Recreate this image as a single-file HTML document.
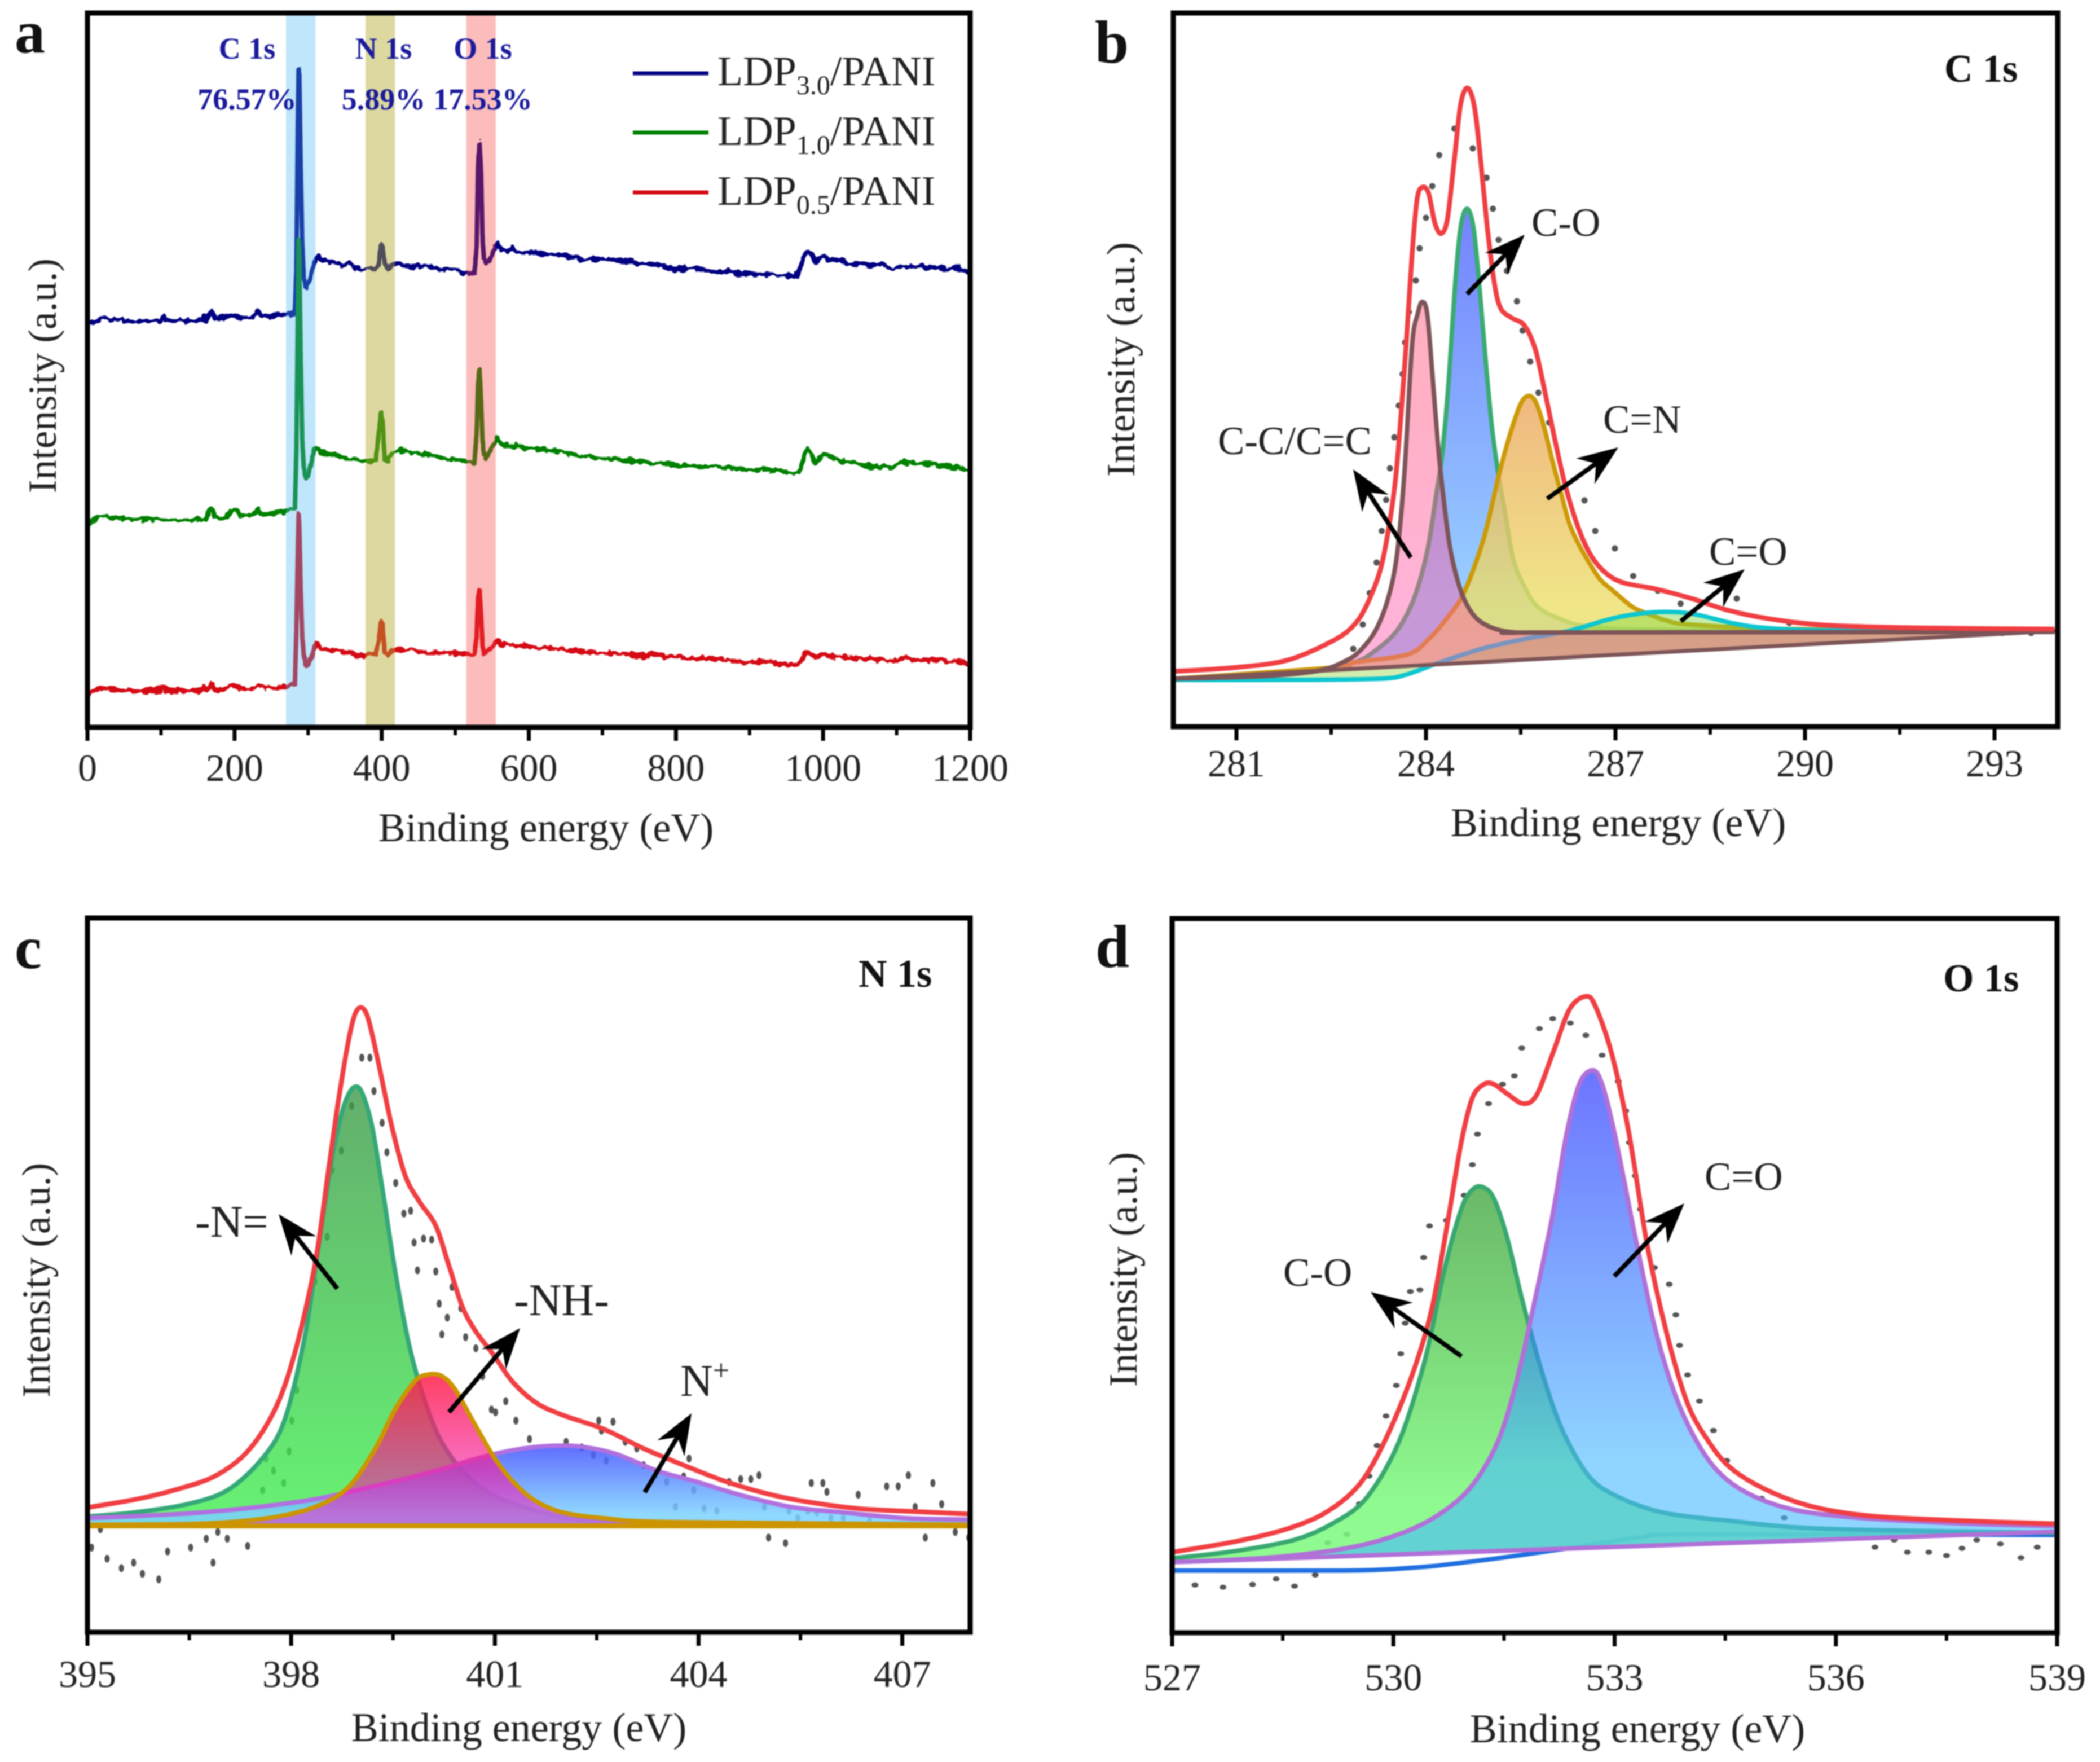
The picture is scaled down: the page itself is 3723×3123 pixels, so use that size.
<!DOCTYPE html>
<html lang="en">
<head>
<meta charset="utf-8">
<title>XPS spectra of LDP/PANI</title>
<style>
html,body{margin:0;padding:0;background:#fff;}
svg{display:block;filter:blur(1px);}
text{font-family:"Liberation Serif",serif;fill:#222;}
.axis-label{font-size:72px;}
.y-title{font-size:71px;}
.tick-label{font-size:68px;text-anchor:middle;}
.note{font-size:71px;}
.note-large{font-size:80px;}
.legend-text{font-size:74px;}
.panel-letter{font-size:108px;font-weight:bold;fill:#111;}
.core{font-size:70px;font-weight:bold;fill:#111;}
.band-label{font-size:54px;font-weight:bold;fill:#1a1a9c;text-anchor:middle;}
</style>
</head>
<body>
<svg id="fig" xmlns="http://www.w3.org/2000/svg" width="3723" height="3123" viewBox="0 0 3723 3123">
  <defs>
    <linearGradient id="gCC" x1="0" y1="0" x2="0" y2="1"><stop offset="0" stop-color="rgb(255,78,111)"/><stop offset="1" stop-color="rgb(255,88,178)"/></linearGradient>
    <linearGradient id="gCOb" x1="0" y1="0" x2="0" y2="1"><stop offset="0" stop-color="rgb(108,124,255)"/><stop offset="0.82" stop-color="rgb(146,204,255)"/></linearGradient>
    <linearGradient id="gCN" x1="0" y1="0" x2="0" y2="1"><stop offset="0" stop-color="rgb(236,166,96)"/><stop offset="0.75" stop-color="rgb(236,224,106)"/></linearGradient>
    <linearGradient id="gCOd" x1="0" y1="0" x2="0" y2="1"><stop offset="0" stop-color="#78d840"/><stop offset="1" stop-color="#a0d850"/></linearGradient>
    <linearGradient id="gNg" x1="0" y1="0" x2="0" y2="1"><stop offset="0" stop-color="#3c9a48"/><stop offset="1" stop-color="#40f050"/></linearGradient>
    <linearGradient id="gNr" x1="0" y1="0" x2="0" y2="1"><stop offset="0" stop-color="rgb(255,30,68)" stop-opacity="0.85"/><stop offset="1" stop-color="rgb(240,24,209)" stop-opacity="0.5"/></linearGradient>
    <linearGradient id="gNb" x1="0" y1="0" x2="0" y2="1"><stop offset="0" stop-color="rgb(68,84,255)"/><stop offset="0.85" stop-color="rgb(124,209,255)"/></linearGradient>
    <linearGradient id="gOg" x1="0" y1="0" x2="0" y2="1"><stop offset="0" stop-color="rgb(80,172,77)"/><stop offset="0.85" stop-color="rgb(124,250,124)"/></linearGradient>
    <linearGradient id="gOb" x1="0" y1="0" x2="0" y2="1"><stop offset="0" stop-color="rgb(10,24,255)"/><stop offset="0.8" stop-color="rgb(69,186,255)"/></linearGradient>
    <clipPath id="clipB"><rect x="2080" y="23" width="1568" height="1265"/></clipPath>
    <clipPath id="clipC"><rect x="155" y="1627" width="1565" height="1266"/></clipPath>
    <clipPath id="clipD"><rect x="2078" y="1628" width="1569" height="1266"/></clipPath>
    <filter id="rough" filterUnits="userSpaceOnUse" x="100" y="0" width="1700" height="1350" color-interpolation-filters="sRGB">
      <feTurbulence type="fractalNoise" baseFrequency="0.08" numOctaves="2" seed="4" result="noise"/>
      <feColorMatrix in="noise" type="matrix" values="0 0 0 0 0.5  0 1 0 0 0  0 0 0 0 0.5  0 0 0 0 1" result="yOnly"/>
      <feDisplacementMap in="SourceGraphic" in2="yOnly" scale="14" xChannelSelector="R" yChannelSelector="G"/>
    </filter>
  </defs>
  <rect x="0" y="0" width="3723" height="3123" fill="#fff"/>

  <g id="panelA"></g>
  <g id="panelB"></g>
  <g id="panelC"></g>
  <g id="panelD"></g>

  <!-- panel letters -->
  <text class="panel-letter" x="26" y="93">a</text>
  <text class="panel-letter" x="1941" y="111">b</text>
  <text class="panel-letter" x="26" y="1716">c</text>
  <text class="panel-letter" x="1942" y="1714">d</text>

  <!-- axis titles -->
  <text class="axis-label" x="968" y="1491" text-anchor="middle">Binding energy (eV)</text>
  <text class="y-title" transform="translate(99,666) rotate(-90)" text-anchor="middle">Intensity (a.u.)</text>
  <text class="axis-label" x="2869" y="1482" text-anchor="middle">Binding energy (eV)</text>
  <text class="y-title" transform="translate(2011,637) rotate(-90)" text-anchor="middle">Intensity (a.u.)</text>
  <text class="axis-label" x="920" y="3086" text-anchor="middle">Binding energy (eV)</text>
  <text class="y-title" transform="translate(88,2269) rotate(-90)" text-anchor="middle">Intensity (a.u.)</text>
  <text class="axis-label" x="2903" y="3088" text-anchor="middle">Binding energy (eV)</text>
  <text class="y-title" transform="translate(2015,2250) rotate(-90)" text-anchor="middle">Intensity (a.u.)</text>

  <!-- panel a labels and legend -->
  <text class="band-label" x="438" y="104">C 1s</text>
  <text class="band-label" x="438" y="194">76.57%</text>
  <text class="band-label" x="680" y="104">N 1s</text>
  <text class="band-label" x="680" y="194">5.89%</text>
  <text class="band-label" x="856" y="104">O 1s</text>
  <text class="band-label" x="856" y="194">17.53%</text>

  <g>
    <line x1="1122" x2="1256" y1="130" y2="130" stroke="#000080" stroke-width="7"/>
    <line x1="1122" x2="1256" y1="235" y2="235" stroke="#008000" stroke-width="7"/>
    <line x1="1122" x2="1256" y1="341" y2="341" stroke="#d40a14" stroke-width="7"/>
    <text class="legend-text" x="1272" y="151">LDP<tspan font-size="48" dy="16">3.0</tspan><tspan dy="-16">/PANI</tspan></text>
    <text class="legend-text" x="1272" y="257">LDP<tspan font-size="48" dy="16">1.0</tspan><tspan dy="-16">/PANI</tspan></text>
    <text class="legend-text" x="1272" y="363">LDP<tspan font-size="48" dy="16">0.5</tspan><tspan dy="-16">/PANI</tspan></text>
  </g>

  <!-- panel b labels -->
  <text class="core" x="3447" y="145">C 1s</text>
  <text class="note" x="2715" y="418">C-O</text>
  <text class="note" x="2842" y="767">C=N</text>
  <text class="note" x="3030" y="1001">C=O</text>
  <text class="note" x="2159" y="805">C-C/C=C</text>

  <!-- panel c labels -->
  <text class="core" x="1522" y="1749">N 1s</text>
  <text class="note-large" x="346" y="2192">-N=</text>
  <text class="note-large" x="911" y="2331">-NH-</text>
  <text class="note-large" x="1206" y="2474">N<tspan font-size="52" dy="-28">+</tspan></text>

  <!-- panel d labels -->
  <text class="core" x="3445" y="1757">O 1s</text>
  <text class="note" x="2275" y="2279">C-O</text>
  <text class="note" x="3022" y="2109">C=O</text>

  <g id="arrows"></g>
</svg>

<script>
/* ---------- panel a: survey spectra ---------- */
const surveyEnergy = [0,5,10,18,25,35,50,70,90,100,103,106,120,140,155,158,161,168,170,173,185,200,203,208,225,232,236,245,260,275,282,284,286,287,288,290,292,294,297,300,304,308,312,318,326,335,345,355,365,375,385,392,396,399,401,404,408,415,425,440,460,480,500,515,526,529,531,533,535,537,539,542,546,551,557,563,570,578,590,605,625,650,675,700,725,750,775,800,825,850,875,900,925,945,960,966,971,978,984,990,995,1001,1008,1020,1040,1060,1080,1095,1105,1115,1130,1150,1170,1185,1200];
const ldp30Intensity = [715,721,723,725,728,724,723,723,722,723,731,723,723,723,724,731,723,740,738,726,727,734,731,727,730,740,732,731,732,735,737,813,1073,1171,1163,993,863,803,783,788,803,825,837,831,829,827,822,825,817,814,817,813,823,857,853,825,816,823,823,820,820,814,813,808,807,853,1003,1038,993,873,831,827,830,843,862,848,845,852,843,846,841,839,831,833,830,825,823,815,816,810,811,805,807,802,801,805,825,849,841,827,832,838,832,830,824,821,823,813,821,819,819,818,815,816,809];
const ldp10Intensity = [361,367,371,374,375,371,371,370,370,370,370,370,370,369,370,371,370,390,388,372,372,387,385,375,378,388,380,379,381,386,388,493,733,865,843,653,513,463,443,448,468,493,497,490,487,484,481,477,474,473,473,475,523,558,548,478,475,486,493,488,485,480,475,473,469,523,613,636,583,513,483,481,487,500,514,503,503,500,498,496,493,488,483,478,476,473,470,467,463,464,461,458,458,455,451,453,468,495,485,471,478,486,481,475,471,465,463,462,473,470,469,467,464,463,457];
const ldp05Intensity = [57,63,67,68,70,66,65,65,66,66,71,66,65,65,67,73,66,75,74,67,67,77,75,68,70,76,71,70,71,74,76,173,313,378,358,243,163,128,111,113,123,138,150,140,138,136,135,133,129,128,130,130,153,187,183,133,128,138,138,137,133,133,131,130,128,163,233,245,203,148,133,133,137,145,155,147,147,147,145,143,141,138,135,133,131,128,128,125,121,123,118,115,117,113,110,111,121,135,130,123,127,132,128,125,123,121,121,117,123,122,121,119,117,118,113];
const bandStart = [270,378,515];
const bandEnd = [310,418,555];
const surveyMajorTicks = [0,200,400,600,800,1000,1200];
const surveyMinorTicks = [100,300,500,700,900,1100];

/* ---------- panel b: C 1s ---------- */
const cDotsEnergy = [282.85,283.00,283.11,283.22,283.30,283.37,283.43,283.50,283.57,283.63,283.67,283.73,283.84,283.90,284.00,284.10,284.21,284.45,284.74,284.96,285.06,285.15,285.28,285.44,285.53,285.65,285.78,285.95,286.51,286.68,286.99,287.28,287.67,288.03,288.92,289.75,293.12,293.58];
const cDotsIntensity = [138,181,237,291,347,402,458,513,569,625,681,735,791,848,902,958,1013,1060,1025,973,918,863,808,754,702,647,592,539,401,347,316,267,241,218,227,184,166,166];
const cFitEnergy = [280.00,280.99,281.81,282.54,282.86,283.06,283.27,283.40,283.51,283.59,283.69,283.78,283.86,283.94,284.04,284.14,284.24,284.34,284.45,284.55,284.66,284.77,284.87,284.97,285.08,285.18,285.35,285.56,285.73,285.86,286.03,286.20,286.41,286.61,286.85,287.13,287.64,288.21,288.76,289.39,290.32,291.87,293.95];
const cFitIntensity = [98,105,118,153,180,215,275,345,430,530,683,837,935,956,946,893,874,900,1006,1104,1132,1097,999,886,788,742,725,711,669,606,514,430,353,304,272,255,244,227,207,192,180,175,173];
const ccEnergy = [280.00,281.50,282.33,282.75,282.96,283.20,283.40,283.54,283.66,283.78,283.87,283.94,284.02,284.10,284.19,284.26,284.36,284.46,284.60,284.80,285.08,285.42,285.93,293.95];
const ccIntensity = [85,90,100,118,135,170,227,304,451,676,732,753,732,627,500,423,332,276,227,192,174,167,167,168];
const coEnergy = [280.00,282.02,282.86,283.20,283.54,283.81,284.02,284.17,284.26,284.36,284.46,284.55,284.65,284.75,284.84,284.94,285.04,285.15,285.25,285.38,285.56,285.76,286.10,286.61,288.00,293.95];
const coIntensity = [85,95,114,135,170,227,311,416,486,613,781,886,918,886,788,655,535,444,381,297,248,213,192,177,172,170];
const cnEnergy = [280.00,282.54,282.86,283.71,284.05,284.33,284.60,284.91,285.15,285.32,285.49,285.61,285.73,285.86,286.00,286.14,286.27,286.41,286.55,286.75,286.96,287.26,287.47,287.81,288.19,289.80,293.95];
const cnIntensity = [85,105,114,128,156,192,237,332,444,514,570,586,577,535,472,413,360,325,297,262,241,213,202,188,181,173,170];
const cdoEnergy = [280.00,282.02,283.27,283.68,284.22,284.91,285.59,286.27,286.96,287.50,287.98,288.35,288.87,289.39,290.32,293.95];
const cdoIntensity = [83,83,85,92,114,139,156,170,192,202,203,197,183,175,171,168];
const cBaseEnergy = [280,294];
const cBaseIntensity = [85,170];
const cMajorTicks = [281,284,287,290,293];
const cMinorTicks = [282.5,285.5,288.5,291.5];

/* ---------- panel c: N 1s ---------- */
const nDotsEnergy = [395.06,395.19,395.29,395.50,395.68,395.81,396.05,396.18,396.52,396.75,396.85,396.92,397.06,397.36,397.58,397.63,397.74,397.89,397.97,398.01,398.08,398.25,398.35,398.53,398.60,398.74,398.89,399.04,399.16,399.22,399.34,399.41,399.54,399.66,399.76,399.81,399.95,400.07,399.86,400.13,400.18,400.22,400.37,400.30,400.50,400.57,400.72,400.82,400.95,401.01,401.16,401.31,401.51,402.05,402.28,402.45,402.64,402.53,402.57,402.74,402.92,403.09,403.19,403.66,403.53,403.78,403.86,403.93,404.08,404.27,404.45,404.62,404.77,404.89,404.97,405.03,405.28,405.33,405.46,405.61,405.66,405.74,405.83,405.89,405.95,406.13,406.35,406.52,406.77,406.94,407.09,407.19,407.34,407.45,407.58,407.78,407.98];
const nDotsIntensity = [152,185,132,115,125,105,95,145,152,168,125,180,168,155,255,312,290,268,325,380,435,580,630,710,830,865,945,1032,1032,972,915,862,807,752,757,700,707,705,650,648,590,535,620,565,582,530,510,460,400,395,415,380,347,342,332,318,308,380,362,378,342,330,300,225,270,280,312,255,222,218,270,275,275,282,225,170,160,218,205,218,268,215,268,252,205,205,247,200,262,262,282,225,170,268,230,180,170];
const nFitEnergy = [395.00,395.68,396.27,396.87,397.36,397.76,398.05,398.35,398.55,398.69,398.84,398.94,399.04,399.14,399.29,399.48,399.68,399.88,400.13,400.32,400.52,400.72,400.97,401.26,401.61,402.00,402.60,403.19,403.78,404.37,404.97,405.56,406.35,407.14,408.03];
const nFitIntensity = [224,238,255,280,325,400,500,660,830,950,1060,1110,1122,1100,1020,910,820,775,730,660,585,540,500,450,412,390,365,330,300,272,250,235,222,217,212];
const imineEnergy = [395.00,395.68,396.47,397.06,397.56,397.90,398.20,398.40,398.60,398.74,398.84,398.94,399.04,399.19,399.34,399.53,399.73,399.93,400.18,400.52,400.92,401.41,402.10,403.09,408.03];
const imineIntensity = [208,215,230,255,310,380,530,690,850,930,965,980,970,910,800,650,520,430,350,290,250,225,205,197,195];
const amineEnergy = [395.00,396.67,397.66,398.35,398.84,399.24,399.53,399.83,400.03,400.22,400.42,400.72,401.01,401.31,401.61,402.00,402.60,403.58,408.03];
const amineIntensity = [193,195,205,225,260,330,400,452,463,460,435,370,310,265,235,215,205,198,193];
const nPlusEnergy = [395.00,396.67,398.15,399.14,400.13,400.82,401.41,401.90,402.30,402.79,403.39,403.98,404.57,405.36,406.15,407.04,408.03];
const nPlusIntensity = [205,215,235,260,290,315,330,335,333,320,290,270,248,225,215,205,202];
const nBaseEnergy = [395,408];
const nBaseIntensity = [191,191];
const nMajorTicks = [395,398,401,404,407];
const nMinorTicks = [396.5,399.5,402.5,405.5];

/* ---------- panel d: O 1s ---------- */
const oDotsEnergy = [527.31,527.69,528.09,528.41,528.66,528.94,529.11,529.37,529.54,529.67,529.78,529.90,530.04,530.10,530.16,530.23,530.36,530.41,530.49,530.72,530.96,531.07,531.14,531.29,531.48,531.64,531.74,531.98,532.16,532.40,532.61,532.83,533.05,533.15,533.20,533.28,533.35,533.54,533.74,533.83,533.88,533.99,534.15,534.34,534.52,534.99,535.30,536.53,536.79,536.97,537.26,537.50,537.71,537.91,538.23,538.51,538.73];
const oDotsIntensity = [86,82,87,97,84,104,162,177,232,282,337,390,445,502,557,614,617,675,732,742,787,842,897,952,987,1002,1052,1087,1105,1097,1075,1039,992,939,882,822,762,657,627,572,517,464,417,364,310,242,207,154,167,145,145,139,152,167,160,135,154];
const oFitEnergy = [527.00,527.85,528.56,529.09,529.54,529.89,530.25,530.52,530.74,530.92,531.07,531.23,531.36,531.54,531.76,531.94,532.16,532.39,532.61,532.74,532.96,533.19,533.45,533.72,533.99,534.26,534.57,535.06,535.68,536.48,537.64,539.00];
const oFitIntensity = [145,164,187,217,267,347,462,582,742,882,962,987,987,970,952,967,1042,1122,1145,1127,1042,902,692,532,412,347,297,257,227,210,202,196];
const ocoEnergy = [527.00,527.85,528.65,529.18,529.63,530.07,530.43,530.69,530.92,531.07,531.21,531.36,531.54,531.76,532.03,532.30,532.65,533.01,533.63,534.52,535.86,539.00];
const ocoIntensity = [134,147,167,197,242,342,492,652,762,797,802,782,712,592,462,362,282,247,217,202,187,180];
const odoEnergy = [527.00,528.29,529.36,530.07,530.61,531.05,531.41,531.67,531.94,532.16,532.34,532.52,532.70,532.83,533.01,533.28,533.54,533.81,534.08,534.39,534.79,535.41,536.30,537.64,539.00];
const odoIntensity = [127,135,152,177,212,262,342,452,612,752,892,987,1012,987,892,712,552,432,352,292,252,222,207,197,192];
const oBackEnergy = [527,529.30,529.89,530.25,530.61,531.41,532.21,532.74,533.37,534.08,539];
const oBackIntensity = [112,112,114,117,121,134,149,160,172,177,176];
const oBaseEnergy = [527,539];
const oBaseIntensity = [127,182];
const oMajorTicks = [527,530,533,536,539];
const oMinorTicks = [528.5,531.5,534.5,537.5];

/* ---------- drawing helpers ---------- */
const NS = 'http://www.w3.org/2000/svg';
function make(tag, parent){ const el = document.createElementNS(NS, tag); parent.appendChild(el); return el; }
function scale(d0,d1,r0,r1){ return v => r0 + (v-d0)/(d1-d0)*(r1-r0); }
function linePath(xs, ys, X, Y){
  let d = '';
  for(let i=0;i<xs.length;i++){ d += (i?'L':'M') + X(xs[i]).toFixed(1) + ' ' + Y(ys[i]).toFixed(1); }
  return d;
}
function smoothPath(xs, ys, X, Y){
  const p = xs.map((x,i)=>[X(x),Y(ys[i])]);
  let d = 'M' + p[0][0].toFixed(1)+' '+p[0][1].toFixed(1);
  for(let i=0;i<p.length-1;i++){
    const a=p[Math.max(i-1,0)], b=p[i], c=p[i+1], e=p[Math.min(i+2,p.length-1)];
    const t=0.16;
    const c1x=b[0]+(c[0]-a[0])*t, c1y=b[1]+(c[1]-a[1])*t;
    const c2x=c[0]-(e[0]-b[0])*t, c2y=c[1]-(e[1]-b[1])*t;
    d += 'C'+c1x.toFixed(1)+' '+c1y.toFixed(1)+' '+c2x.toFixed(1)+' '+c2y.toFixed(1)+' '+c[0].toFixed(1)+' '+c[1].toFixed(1);
  }
  return d;
}
function axisFrame(g, geo, X, major, minor, panelKey){
  const bottom = geo.bottom;
  major.forEach(v=>{
    const t = make('line', g);
    t.setAttribute('x1', X(v)); t.setAttribute('x2', X(v));
    t.setAttribute('y1', bottom); t.setAttribute('y2', bottom+24);
    t.setAttribute('stroke', '#000'); t.setAttribute('stroke-width', '7');
    
    
    const s = make('text', g);
    s.setAttribute('class', 'tick-label');
    s.setAttribute('x', X(v)); s.setAttribute('y', geo.tickY);
    s.textContent = String(v);
    
    
  });
  minor.forEach(v=>{
    const t = make('line', g);
    t.setAttribute('x1', X(v)); t.setAttribute('x2', X(v));
    t.setAttribute('y1', bottom); t.setAttribute('y2', bottom+14);
    t.setAttribute('stroke', '#000'); t.setAttribute('stroke-width', '6');
    
    
  });
  const f = make('rect', g);
  f.setAttribute('x', geo.left); f.setAttribute('y', geo.top);
  f.setAttribute('width', geo.right-geo.left); f.setAttribute('height', geo.bottom-geo.top);
  f.setAttribute('fill', 'none'); f.setAttribute('stroke', '#000'); f.setAttribute('stroke-width', '9');
  
  
}
function drawDots(g, xs, ys, X, Y, clip, panelKey, rx, ry){
  const dg = make('g', g);
  dg.setAttribute('clip-path', clip);
  
  
  xs.forEach((x,i)=>{
    const c = make('ellipse', dg);
    c.setAttribute('cx', X(x).toFixed(1)); c.setAttribute('cy', Y(ys[i]).toFixed(1));
    c.setAttribute('rx', rx); c.setAttribute('ry', ry);
    c.setAttribute('fill', '#555');
    
    
  });
}
function drawArea(g, xs, ys, baseX, baseY, X, Y, fill, opacity, clip, name){
  const a = make('path', g);
  const n = baseX.length-1;
  a.setAttribute('d', smoothPath(xs, ys, X, Y) + 'L' + X(baseX[n]) + ' ' + Y(baseY[n]) + 'L' + X(baseX[0]) + ' ' + Y(baseY[0]) + 'Z');
  a.setAttribute('fill', fill);
  a.setAttribute('fill-opacity', opacity);
  a.setAttribute('clip-path', clip);
  
  
}
function drawLine(g, xs, ys, X, Y, stroke, width, clip, name, smooth){
  const l = make('path', g);
  l.setAttribute('d', smooth ? smoothPath(xs, ys, X, Y) : linePath(xs, ys, X, Y));
  l.setAttribute('fill', 'none');
  l.setAttribute('stroke', stroke);
  l.setAttribute('stroke-width', width);
  l.setAttribute('stroke-linejoin', 'round');
  l.setAttribute('clip-path', clip);
  
  
  return l;
}
function drawPeak(g, xs, ys, baseX, baseY, X, Y, fill, opacity, stroke, clip, name){
  drawArea(g, xs, ys, baseX, baseY, X, Y, fill, opacity, clip, name);
  drawLine(g, xs, ys, X, Y, stroke, 8, clip, name + '-curve', true);
}

/* ---------- panel a ---------- */
(function(){
  const g = document.getElementById('panelA');
  const geo = {left:155,right:1720,top:23,bottom:1289,tickY:1384};
  const X = scale(0,1200,geo.left,geo.right);
  const Y = scale(0,1266,1289,27);
  const roughGroup = make('g', g);
  roughGroup.setAttribute('filter', 'url(#rough)');
  
  
  drawLine(roughGroup, surveyEnergy, ldp30Intensity, X, Y, '#000080', 8, 'none', 'series-ldp30-pani', false);
  drawLine(roughGroup, surveyEnergy, ldp10Intensity, X, Y, '#008000', 8, 'none', 'series-ldp10-pani', false);
  drawLine(roughGroup, surveyEnergy, ldp05Intensity, X, Y, '#d40a14', 8, 'none', 'series-ldp05-pani', false);
  const bandFill = ['rgb(72,183,243)','rgb(178,169,44)','rgb(250,64,64)'];
  const bandAlpha = ['0.35','0.45','0.35'];
  bandStart.forEach((s,i)=>{
    const r = make('rect', g);
    r.setAttribute('x', X(s)); r.setAttribute('y', geo.top);
    r.setAttribute('width', X(bandEnd[i])-X(s)); r.setAttribute('height', geo.bottom-geo.top);
    r.setAttribute('fill', bandFill[i]); r.setAttribute('fill-opacity', bandAlpha[i]);
    
    
  });
  axisFrame(g, geo, X, surveyMajorTicks, surveyMinorTicks, 'a');
})();

/* ---------- panel b ---------- */
(function(){
  const g = document.getElementById('panelB');
  const geo = {left:2080,right:3648,top:23,bottom:1288,tickY:1376};
  const X = scale(280,294,geo.left,geo.right);
  const Y = scale(0,1265,geo.bottom,geo.top);
  const clip = 'url(#clipB)';
  drawDots(g, cDotsEnergy, cDotsIntensity, X, Y, clip, 'b', 5.5, 5.5);
  drawPeak(g, coEnergy, coIntensity, cBaseEnergy, cBaseIntensity, X, Y, 'url(#gCOb)', 0.95, '#3aab70', clip, 'peak-c-o');
  drawPeak(g, cnEnergy, cnIntensity, cBaseEnergy, cBaseIntensity, X, Y, 'url(#gCN)', 0.8, '#cc9a08', clip, 'peak-c-n');
  drawPeak(g, cdoEnergy, cdoIntensity, cBaseEnergy, cBaseIntensity, X, Y, 'url(#gCOd)', 0.45, '#0cc6d0', clip, 'peak-c-double-o');
  drawArea(g, ccEnergy, ccIntensity, cBaseEnergy, cBaseIntensity, X, Y, 'url(#gCC)', 0.45, clip, 'peak-c-c');
  drawLine(g, ccEnergy, ccIntensity, X, Y, '#7d5558', 8, clip, 'peak-c-c-curve', true);
  drawLine(g, cBaseEnergy, cBaseIntensity, X, Y, '#7d5558', 7, clip, 'background-line-b', false);
  drawLine(g, cFitEnergy, cFitIntensity, X, Y, '#f03e42', 8.5, clip, 'envelope-fit-b', true);
  axisFrame(g, geo, X, cMajorTicks, cMinorTicks, 'b');
})();

/* ---------- panel c ---------- */
(function(){
  const g = document.getElementById('panelC');
  const geo = {left:155,right:1720,top:1627,bottom:2893,tickY:2990};
  const X = scale(395,408,geo.left,geo.right);
  const Y = scale(0,1283,geo.bottom,geo.top);
  const clip = 'url(#clipC)';
  drawDots(g, nDotsEnergy, nDotsIntensity, X, Y, clip, 'c', 4.5, 7);
  drawPeak(g, imineEnergy, imineIntensity, nBaseEnergy, nBaseIntensity, X, Y, 'url(#gNg)', 0.8, '#35a878', clip, 'peak-imine');
  drawPeak(g, nPlusEnergy, nPlusIntensity, nBaseEnergy, nBaseIntensity, X, Y, 'url(#gNb)', 0.85, '#b070e0', clip, 'peak-n-plus');
  drawPeak(g, amineEnergy, amineIntensity, nBaseEnergy, nBaseIntensity, X, Y, 'url(#gNr)', 1, '#cc9500', clip, 'peak-amine');
  drawLine(g, nBaseEnergy, nBaseIntensity, X, Y, '#cc9500', 9, clip, 'background-line-c', false);
  drawLine(g, nFitEnergy, nFitIntensity, X, Y, '#f03e42', 8.5, clip, 'envelope-fit-c', true);
  axisFrame(g, geo, X, nMajorTicks, nMinorTicks, 'c');
})();

/* ---------- panel d ---------- */
(function(){
  const g = document.getElementById('panelD');
  const geo = {left:2078,right:3647,top:1628,bottom:2894,tickY:2996};
  const X = scale(527,539,geo.left,geo.right);
  const Y = scale(0,1285,geo.bottom,geo.top);
  const clip = 'url(#clipD)';
  drawDots(g, oDotsEnergy, oDotsIntensity, X, Y, clip, 'd', 6, 4.5);
  drawLine(g, oBackEnergy, oBackIntensity, X, Y, '#1f6fe0', 8, clip, 'background-curve-d', true);
  drawPeak(g, ocoEnergy, ocoIntensity, oBaseEnergy, oBaseIntensity, X, Y, 'url(#gOg)', 0.85, '#38a870', clip, 'peak-o-c-o');
  drawPeak(g, odoEnergy, odoIntensity, oBaseEnergy, oBaseIntensity, X, Y, 'url(#gOb)', 0.6, '#b070d8', clip, 'peak-o-c-double-o');
  drawLine(g, odoEnergy, odoIntensity, X, Y, '#b070d8', 8, clip, 'peak-o-c-double-o-outline', true);
  drawLine(g, oBaseEnergy, oBaseIntensity, X, Y, '#b070d8', 8, clip, 'background-line-d', false);
  drawLine(g, oFitEnergy, oFitIntensity, X, Y, '#f03e42', 8.5, clip, 'envelope-fit-d', true);
  axisFrame(g, geo, X, oMajorTicks, oMinorTicks, 'd');
})();

/* ---------- annotation arrows (tail and tip, page coordinates) ---------- */
const arrowHost = document.getElementById('arrows');
function arrow(x1,y1,x2,y2,name){
  const dx=x2-x1, dy=y2-y1, len=Math.hypot(dx,dy), ux=dx/len, uy=dy/len, nx=-uy, ny=ux;
  const headL=72, headW=28, notch=52, w=4;
  const pts=[
    [x1+nx*w,y1+ny*w],
    [x2-ux*notch+nx*w,y2-uy*notch+ny*w],
    [x2-ux*headL+nx*headW,y2-uy*headL+ny*headW],
    [x2,y2],
    [x2-ux*headL-nx*headW,y2-uy*headL-ny*headW],
    [x2-ux*notch-nx*w,y2-uy*notch-ny*w],
    [x1-nx*w,y1-ny*w]
  ];
  const p = make('polygon', arrowHost);
  p.setAttribute('points', pts.map(q=>q[0].toFixed(1)+','+q[1].toFixed(1)).join(' '));
  p.setAttribute('fill', '#000');
  
  
}
arrow(2501,988,2399,832,'arrow-c-c');
arrow(2601,521,2703,416,'arrow-c-o');
arrow(2743,884,2869,793,'arrow-c-n');
arrow(2980,1101,3093,1009,'arrow-c-double-o');
arrow(598,2284,494,2152,'arrow-n-imine');
arrow(796,2503,922,2354,'arrow-nh');
arrow(1143,2645,1226,2505,'arrow-n-plus');
arrow(2591,2404,2430,2290,'arrow-o-c-o');
arrow(2862,2262,2986,2133,'arrow-o-c-double-o');
</script>
</body>
</html>
